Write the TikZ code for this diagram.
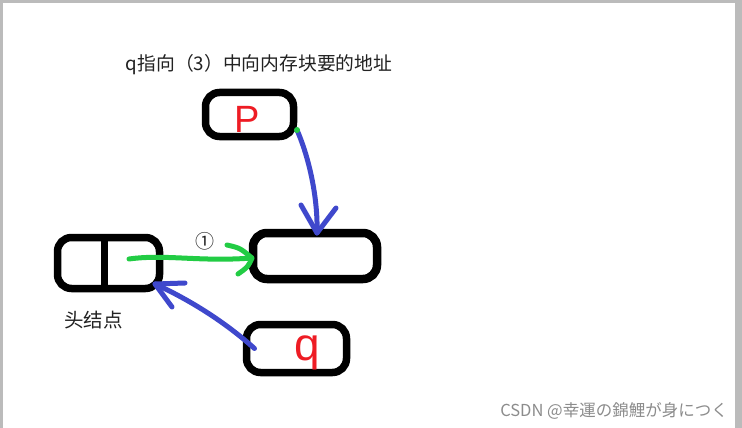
\documentclass[tikz,border=0pt]{standalone}
\usepackage{fontspec}
\setmainfont{Liberation Sans}
\newfontfamily\cjk{Noto Sans CJK SC}
\newfontfamily\jp{Noto Sans CJK JP}
\begin{document}
\begin{tikzpicture}[x=1pt,y=-1pt,
  box/.style={draw=black,line width=7.5pt,rounded corners=14pt,inner sep=0pt,outer sep=0pt},
  gpen/.style={draw=penGreen,line width=5pt,line cap=round,line join=round},
  bpen/.style={draw=penBlue,line width=5pt,line cap=round,line join=round},
  letter/.style={text=penRed,inner sep=0pt},
  lbl/.style={inner sep=0pt,text=textGray}]
\definecolor{penGreen}{HTML}{22CC44}
\definecolor{penBlue}{HTML}{3F48CC}
\definecolor{penRed}{HTML}{EE1C24}
\definecolor{textGray}{HTML}{222222}
\definecolor{edgeGray}{HTML}{BBBBBB}
\definecolor{markGray}{HTML}{8C8C8C}
% canvas and borders
\useasboundingbox (0,0) rectangle (742,428);
\fill[white] (0,0) rectangle (742,428);
\fill[edgeGray] (0,0) rectangle (742,3);
\fill[edgeGray] (0,0) rectangle (3,428);
\fill[edgeGray] (735,0) rectangle (742,428);
% title
\node[lbl] (title) at (259,65) {\cjk\fontsize{18.8}{20}\selectfont q指向（3）中向内存块要的地址};
% boxes
\node[box,minimum width=88pt,minimum height=44pt] (P) at (249.5,114.5) {};
\node[box,line width=8.5pt,minimum width=124pt,minimum height=46pt] (mid) at (315,256) {};
\node[box,minimum width=102pt,minimum height=51pt] (head) at (108.5,263) {};
\node[box,minimum width=100pt,minimum height=48pt] (Q) at (296.5,348.5) {};
\draw[line width=7pt] ([xshift=-4.5pt]head.north) -- ([xshift=-4.5pt]head.south);
% letters
\node[letter] (Pl) at (247,119) {\fontsize{38}{40}\selectfont P};
\node[letter] (Ql) at (307,353) {\fontsize{46}{48}\selectfont q};
% labels
\node[lbl] (headlbl) at (93.5,320) {\cjk\fontsize{19.5}{21}\selectfont 头结点};
\node[lbl] (one) at (205,241) {\cjk\fontsize{19}{20}\selectfont ①};
\node[inner sep=0pt,text=markGray] (mark) at (614,411) {\jp\fontsize{16.5}{18}\selectfont CSDN @幸運の錦鯉が身につく};
% connector coordinates
\coordinate (gs) at (129,259);
\coordinate (ge) at ([xshift=-1pt,yshift=-2pt]mid.west);
\coordinate (ps) at (297,130);
\coordinate (pe) at ([xshift=2pt]mid.north);
\coordinate (qs) at ([xshift=8pt]Q.west);
\coordinate (qe) at (155,284);
% green arrow (1)
\draw[gpen] (gs) .. controls (165,254) and (200,262) .. (ge);
\draw[gpen] ([xshift=-25pt,yshift=13pt]ge) .. controls ([xshift=-12pt,yshift=10pt]ge) .. (ge)
  .. controls ([xshift=-4pt,yshift=-9pt]ge) .. ([xshift=-14pt,yshift=-16pt]ge);
% blue arrow from P
\draw[bpen] (ps) .. controls (310,160) and (318,200) .. (pe);
\draw[bpen] ([xshift=-16pt,yshift=28pt]pe) -- (pe) -- ([xshift=19pt,yshift=25pt]pe);
\fill[penGreen] (ps) circle (3pt);
% blue arrow from q
\draw[bpen] (qs) .. controls (225,322) and (190,300) .. (qe);
\draw[bpen] ([xshift=30pt,yshift=1pt]qe) -- (qe) -- ([xshift=17pt,yshift=-23pt]qe);
\end{tikzpicture}
\end{document}
